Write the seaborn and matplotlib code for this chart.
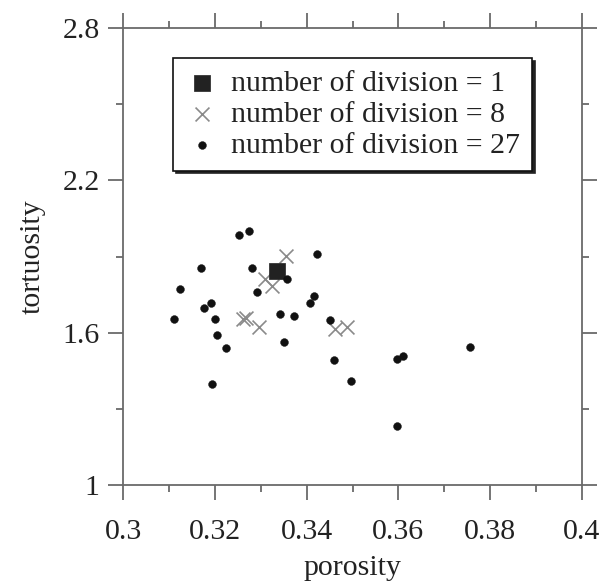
import pandas as pd
import seaborn as sns
import matplotlib.pyplot as plt
from matplotlib.ticker import FixedLocator

# Values
div1_porosity = [0.3336]
div1_tortuosity = [1.844]

div8_porosity = [0.3356, 0.3310, 0.3325, 0.3262, 0.3268, 0.3296, 0.3461, 0.3488]
div8_tortuosity = [1.903, 1.813, 1.784, 1.653, 1.658, 1.621, 1.616, 1.621]

div27_porosity = [0.3253, 0.3275, 0.3423, 0.3169, 0.3281, 0.3358, 0.3124, 0.3292, 0.3416,
                  0.3407, 0.3192, 0.3176, 0.3112, 0.3200, 0.3341, 0.3373, 0.3450, 0.3205,
                  0.3351, 0.3225, 0.3459, 0.3497, 0.3194, 0.3598, 0.3609, 0.3756, 0.3597]
div27_tortuosity = [1.986, 2.000, 1.911, 1.855, 1.855, 1.810, 1.771, 1.759, 1.743,
                    1.716, 1.718, 1.696, 1.654, 1.653, 1.672, 1.664, 1.651, 1.590,
                    1.564, 1.541, 1.491, 1.411, 1.397, 1.496, 1.507, 1.542, 1.232]

x_major = [0.3, 0.32, 0.34, 0.36, 0.38, 0.4]
x_labels = ['0.3', '0.32', '0.34', '0.36', '0.38', '0.4']
x_minor = [0.31, 0.33, 0.35, 0.37, 0.39]
y_major = [1, 1.6, 2.2, 2.8]
y_labels = ['1', '1.6', '2.2', '2.8']
y_minor = [1.3, 1.9, 2.5]

labels = ['number of division = 1', 'number of division = 8', 'number of division = 27']


def main():
    sns.set_theme(style='white')
    plt.rcParams['font.family'] = ['Liberation Serif', 'DejaVu Serif']

    d1 = pd.DataFrame({'porosity': div1_porosity, 'tortuosity': div1_tortuosity})
    d8 = pd.DataFrame({'porosity': div8_porosity, 'tortuosity': div8_tortuosity})
    d27 = pd.DataFrame({'porosity': div27_porosity, 'tortuosity': div27_tortuosity})

    fig = plt.figure(figsize=(6.03, 5.83), dpi=100)
    ax = fig.add_axes([123 / 603, 1 - 485 / 583, 459 / 603, 457 / 583])

    sns.scatterplot(data=d1, x='porosity', y='tortuosity', marker='s', s=135,
                    color='#222222', edgecolor='#222222', linewidth=0.5, label=labels[0], ax=ax, zorder=3)
    sns.scatterplot(data=d8, x='porosity', y='tortuosity', marker='x', s=100,
                    color='#8a8a8a', linewidth=1.2, label=labels[1], ax=ax, zorder=2)
    sns.scatterplot(data=d27, x='porosity', y='tortuosity', marker='o', s=32,
                    color='#111111', edgecolor='#111111', linewidth=0.3, label=labels[2], ax=ax, zorder=4)

    ax.set_xlim(0.3, 0.4)
    ax.set_ylim(1, 2.8)
    ax.set_xticks(x_major)
    ax.set_xticklabels(x_labels)
    ax.set_yticks(y_major)
    ax.set_yticklabels(y_labels)
    ax.xaxis.set_minor_locator(FixedLocator(x_minor))
    ax.yaxis.set_minor_locator(FixedLocator(y_minor))

    for sp in ax.spines.values():
        sp.set_color('#6a6a6a')
        sp.set_linewidth(1.3)
    ax.tick_params(which='both', direction='out', top=True, right=True, bottom=True, left=True,
                   color='#6a6a6a', width=1.3, labelsize=21.5, labelcolor='#222222')
    ax.tick_params(which='major', length=10.8)
    ax.tick_params(which='minor', length=5)
    ax.tick_params(axis='x', which='major', pad=14)
    ax.tick_params(axis='y', which='major', pad=6)

    ax.set_xlabel('porosity', fontsize=21.5, color='#222222', labelpad=7)
    ax.set_ylabel('tortuosity', fontsize=21.5, color='#222222', labelpad=12)

    leg = ax.legend(loc='upper left', bbox_to_anchor=(0.109, 0.934), borderaxespad=0,
                    fontsize=21.5, frameon=True, fancybox=False,
                    shadow={'color': '#222222', 'alpha': 1},
                    handletextpad=0.4, labelspacing=0.13, borderpad=0.4, handlelength=1.15)
    leg.get_frame().set_edgecolor('#111111')
    leg.get_frame().set_linewidth(1.2)
    for t in leg.get_texts():
        t.set_color('#222222')

    fig.savefig('out.png', dpi=100)


if __name__ == '__main__':
    main()
